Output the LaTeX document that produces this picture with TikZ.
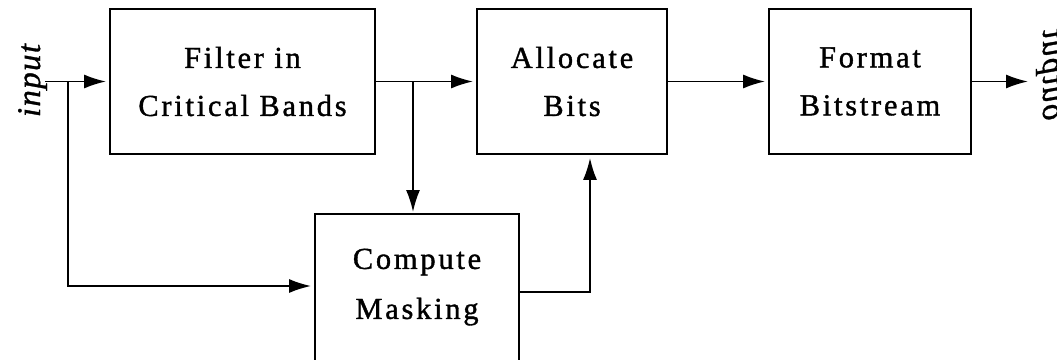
\documentclass[tikz,border=0pt]{standalone}
\usepackage{fontspec}
\setmainfont{Liberation Serif}
\newfontfamily\boxfont{Liberation Serif}[LetterSpace=9,FakeBold=1.2]
\newfontfamily\iofont{Liberation Serif}[LetterSpace=4,FakeBold=1]
\usetikzlibrary{arrows.meta}
\begin{document}
\begin{tikzpicture}[x=1pt,y=-1pt,
  blk/.style={draw, line width=1.8pt, align=center, inner sep=0pt,
    font=\boxfont\fontsize{30.5}{48}\selectfont},
  arr/.style={line width=1.8pt, -{Latex[length=22pt,width=14pt]}, shorten >=3pt},
  io/.style={font=\iofont\itshape\fontsize{33}{40}\selectfont, inner sep=0pt, anchor=base}]
\useasboundingbox (0,0) rectangle (1057,359);
\clip (0,0) rectangle (1057,359);
\fill[white] (0,0) rectangle (1057,359);
\node[blk, minimum width=265pt, minimum height=145pt] (filter) at (242.5,81.5) {Filter in\\Critical Bands};
\node[blk, minimum width=190pt, minimum height=145pt] (alloc) at (572,81.5) {Allocate\\Bits};
\node[blk, minimum width=202pt, minimum height=145pt] (format) at (870,81.5) {Format\\Bitstream};
\node[blk, minimum width=204pt, anchor=north, font=\boxfont\fontsize{30.5}{50}\selectfont] (mask) at (417,213)
  {\rule{0pt}{55pt}Compute\\Masking\rule[-60pt]{0pt}{0pt}};
\node[io, rotate=90] (inlbl) at (40,80.5) {input};
\node[io, rotate=90, yscale=-1] (outlbl) at (1043,75) {output};
\coordinate (in) at (45,81.5);
\coordinate (br1) at (68,81.5);
\coordinate (br2) at (413,81.5);
\coordinate (out) at (1031,81.5);
\draw[arr] (in) -- (filter.west);
\draw[arr] (br1) |- ([yshift=-73pt]mask.north west);
\draw[arr] (filter.east) -- (alloc.west);
\draw[arr, shorten >=1pt] (br2) -- (br2 |- mask.north);
\draw[arr] ([yshift=-79pt]mask.north east) -| ([xshift=18pt]alloc.south);
\draw[arr] (alloc.east) -- (format.west);
\draw[arr] (format.east) -- (out);
\end{tikzpicture}
\end{document}
